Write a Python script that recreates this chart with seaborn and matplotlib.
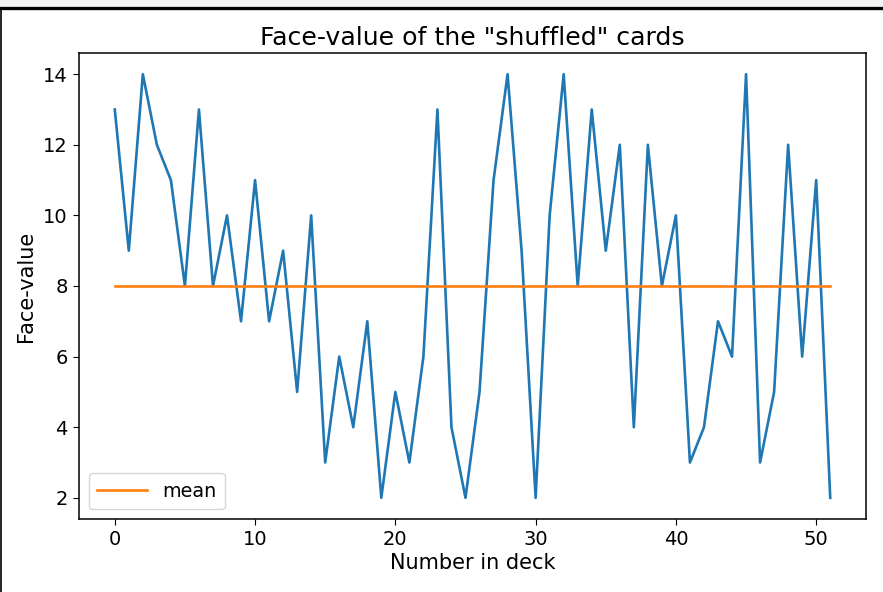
import numpy as np
import pandas as pd
import matplotlib
matplotlib.use("Agg")
import matplotlib.pyplot as plt
import seaborn as sns
from matplotlib.lines import Line2D
from matplotlib.patches import Rectangle

# Face values of a shuffled 52-card deck (2..14, four of each)
face_values = [13, 9, 14, 12, 11, 8, 13, 8, 10, 7,
               11, 7, 9, 5, 10, 3, 6, 4, 7, 2,
               5, 3, 6, 13, 4, 2, 5, 11, 14, 9,
               2, 10, 14, 8, 13, 9, 12, 4, 12, 8,
               10, 3, 4, 7, 6, 14, 3, 5, 12, 6,
               11, 2]
positions = list(range(len(face_values)))

df = pd.DataFrame({"position": positions, "value": face_values})
df["mean"] = float(np.mean(face_values))

plt.rcParams.update({
    "font.family": ["DejaVu Sans"],
    "font.size": 14,
    "axes.titlesize": 18.2,
    "axes.labelsize": 15,
    "xtick.labelsize": 14,
    "ytick.labelsize": 14,
    "legend.fontsize": 13.8,
    "axes.linewidth": 1.1,
    "xtick.major.size": 4.5,
    "ytick.major.size": 4.5,
})

fig = plt.figure(figsize=(8.83, 5.92), dpi=100)
ax = fig.add_axes([79 / 883, 1 - 519 / 592, (866 - 79) / 883, (519 - 53) / 592])

sns.lineplot(data=df, x="position", y="value", ax=ax, color="#1f77b4",
             linewidth=1.9)
sns.lineplot(data=df, x="position", y="mean", ax=ax, color="#ff7f0e",
             linewidth=1.9, label="mean")

ax.set_title('Face-value of the "shuffled" cards', pad=6)
ax.set_xlabel("Number in deck", labelpad=3)
ax.set_ylabel("Face-value", labelpad=5)
ax.set_yticks([2, 4, 6, 8, 10, 12, 14])
ax.set_xticks([0, 10, 20, 30, 40, 50])
ax.legend(loc="lower left", handlelength=2.6, borderpad=0.45)

# window frame around the figure
fig.add_artist(Rectangle((0, 1 - 6 / 592), 1, 6 / 592, transform=fig.transFigure,
                         facecolor="#f3f3f5", edgecolor="none"))
fig.add_artist(Line2D([0, 1], [1 - 7.5 / 592, 1 - 7.5 / 592], transform=fig.transFigure,
                      color="black", linewidth=2.4))
fig.add_artist(Line2D([0.7 / 883, 0.7 / 883], [0, 1 - 7.5 / 592], transform=fig.transFigure,
                      color="black", linewidth=1.2))

fig.savefig("out.png", dpi=100)
